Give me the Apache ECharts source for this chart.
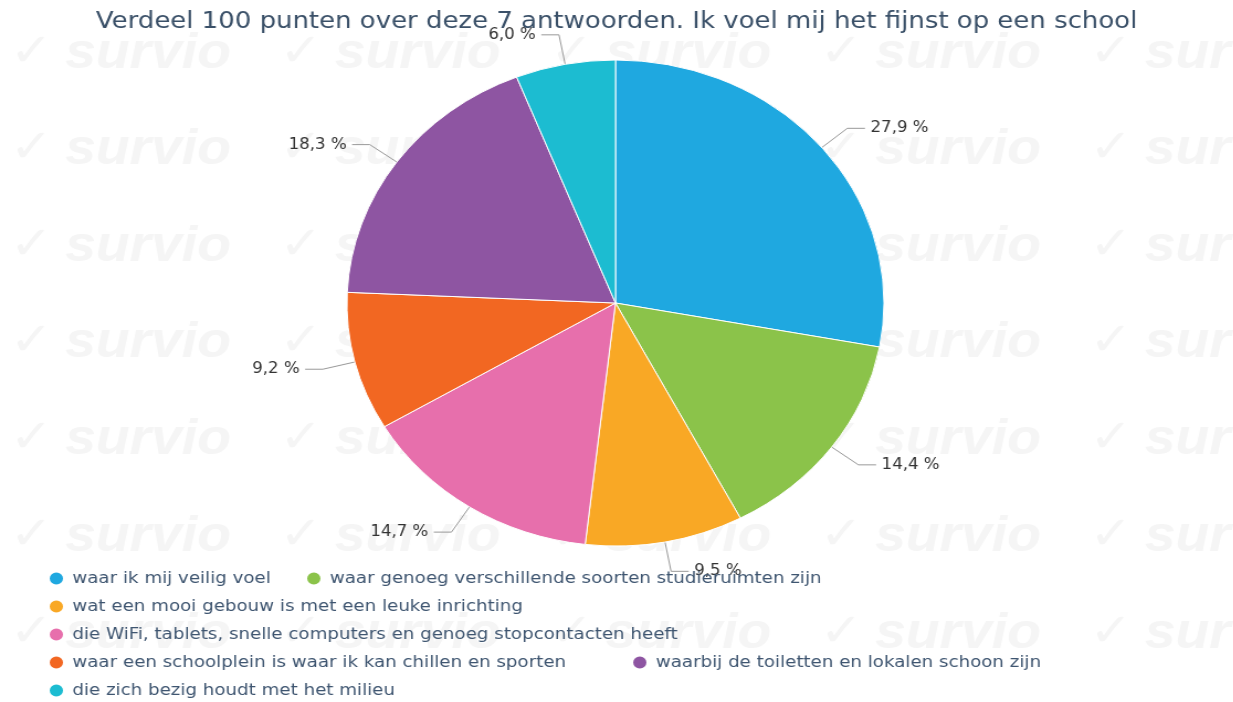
<!DOCTYPE html>
<html>
<head>
<meta charset="utf-8">
<script src="https://cdn.jsdelivr.net/npm/echarts@6/dist/echarts.min.js"></script>
<style>
html,body{margin:0;padding:0;background:#fff;overflow:hidden;}
#wrap{width:1233px;height:702px;overflow:hidden;position:relative;}
#chart{width:1116px;height:702px;transform:scaleX(1.105);transform-origin:0 0;}
</style>
</head>
<body>
<div id="wrap"><div id="chart"></div></div>
<script>
const titleText = 'Verdeel 100 punten over deze 7 antwoorden. Ik voel mij het fijnst op een school';
const categories = [
  'waar ik mij veilig voel',
  'waar genoeg verschillende soorten studieruimten zijn',
  'wat een mooi gebouw is met een leuke inrichting',
  'die WiFi, tablets, snelle computers en genoeg stopcontacten heeft',
  'waar een schoolplein is waar ik kan chillen en sporten',
  'waarbij de toiletten en lokalen schoon zijn',
  'die zich bezig houdt met het milieu'
];
const values = [27.9, 14.4, 9.5, 14.7, 9.2, 18.3, 6.0];
const colors = ['#1fa8e0', '#8bc34a', '#f9a825', '#e76fac', '#f26722', '#8e55a2', '#1cbcd1'];

// legend placement (row layout like the reference)
const legendPos = [
  {left: 43, top: 570}, {left: 276, top: 570},
  {left: 43, top: 598},
  {left: 43, top: 626},
  {left: 43, top: 654}, {left: 571, top: 654},
  {left: 43, top: 682}
];

const chart = echarts.init(document.getElementById('chart'));

// faint watermark
const wm = [];
const colsX = [9, 253, 498, 742, 986];
const rowsY = [57, 153, 250, 346, 443, 540, 637];
colsX.forEach(x => rowsY.forEach(y => {
  wm.push({type:'text', left:x, top:y-26, silent:true, z:-10,
    style:{text:'\u2713', font:'bold 46px "DejaVu Sans"', fill:'#f5f5f5'}});
  wm.push({type:'text', left:x+50, top:y-28, silent:true, z:-10,
    style:{text:'survio', font:'italic bold 50px "Liberation Sans"', fill:'#f5f5f5'}});
}));

const legends = categories.map((c, i) => ({
  data: [c],
  left: legendPos[i].left,
  top: legendPos[i].top,
  orient: 'horizontal',
  icon: 'circle',
  itemWidth: 19,
  itemHeight: 14,
  itemGap: 0,
  padding: 0,
  textStyle: {fontFamily: 'DejaVu Sans', fontSize: 16.5, color: '#3e5570'}
}));

chart.setOption({
  backgroundColor: '#fff',
  animation: false,
  color: colors,
  graphic: wm,
  title: {
    text: titleText,
    left: 'center',
    top: 5,
    padding: [5, 5, 5, 5],
    textStyle: {fontFamily: 'DejaVu Sans', fontSize: 23.5, fontWeight: 'normal', color: '#3a5068'}
  },
  legend: legends,
  series: [{
    type: 'pie',
    center: [557, 303],
    radius: 243,
    startAngle: 90,
    clockwise: true,
    itemStyle: {borderColor: '#fff', borderWidth: 1},
    label: {
      show: true,
      fontFamily: 'DejaVu Sans',
      fontSize: 15,
      color: '#333',
      formatter: p => p.value.toFixed(1).replace('.', ',') + ' %'
    },
    labelLine: {show: true, length: 30, length2: 16, lineStyle: {color: '#999', width: 1}},
    emphasis: {disabled: true},
    data: categories.map((c, i) => ({name: c, value: values[i]}))
  }]
});
</script>
</body>
</html>
